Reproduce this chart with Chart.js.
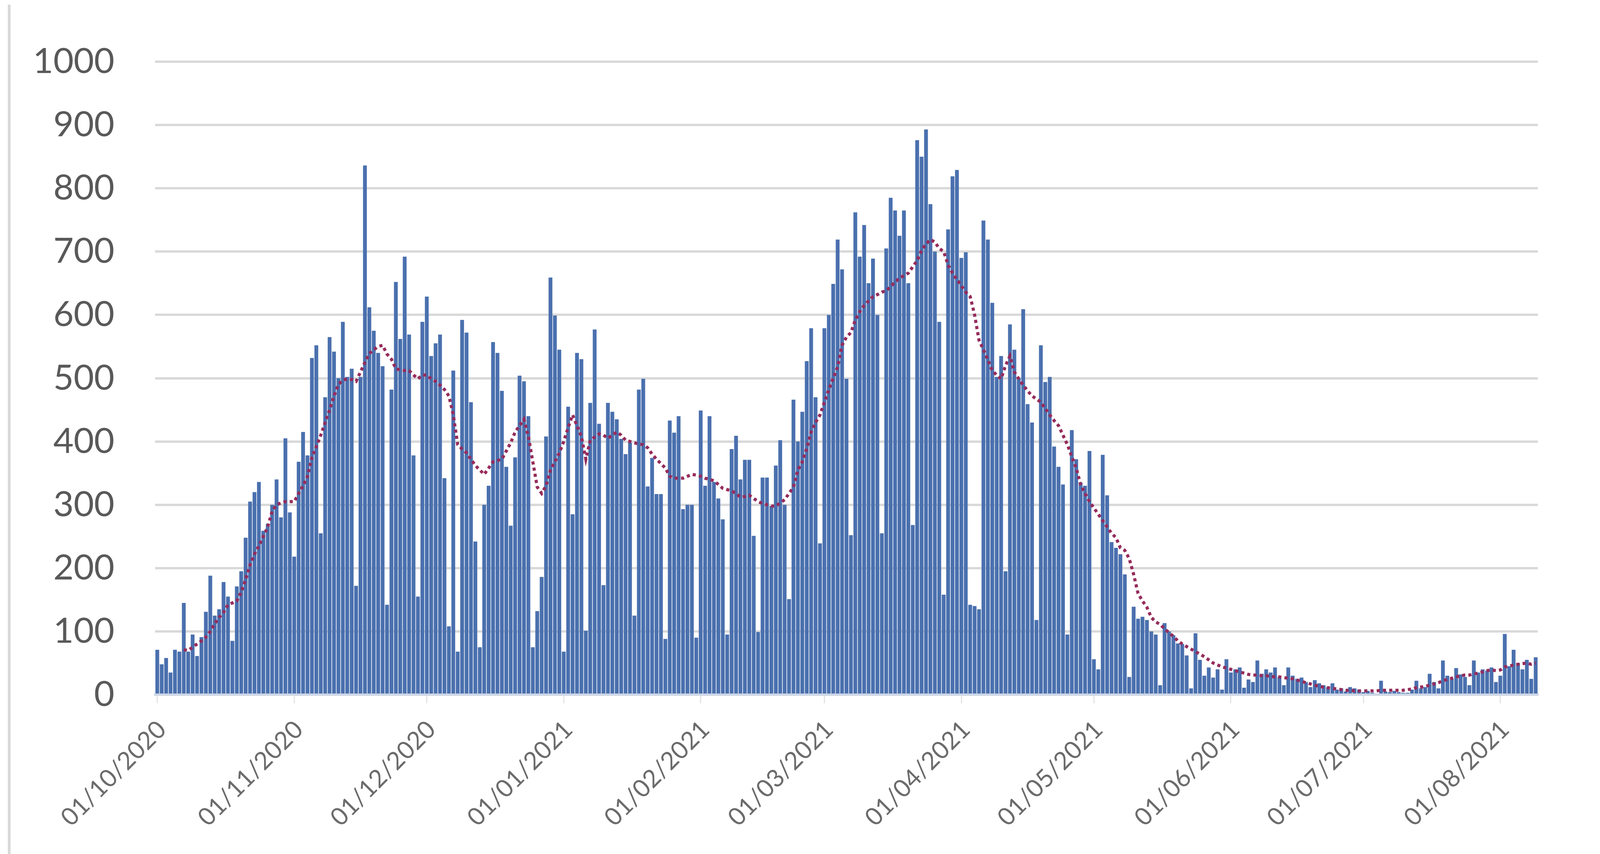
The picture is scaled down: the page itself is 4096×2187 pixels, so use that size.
<!DOCTYPE html>
<html lang="es">
<head>
<meta charset="UTF-8">
<title>Casos diarios y media de 7 días</title>
<script src="https://cdn.jsdelivr.net/npm/chart.js"></script>
<style>
  body { margin: 0; background: #fff; }
  #marco { position: relative; width: 4096px; height: 2187px; }
  #borde { position: absolute; left: 20px; top: 12px; bottom: 0; width: 7px; background: #d9d9d9; }
  canvas { position: absolute; left: 0; top: 0; }
</style>
</head>
<body>
<div id="marco">
  <div id="borde"></div>
  <canvas id="grafico" width="4096" height="2187"></canvas>
</div>

<script>
// casos diarios (01/10/2020 - 09/08/2021)
const casosOct = [71, 48, 58, 35, 71, 68, 145, 68, 95, 61, 91, 131, 188, 125, 135, 178, 155, 85, 171, 195, 248,
                  305, 320, 336, 259, 270, 300, 340, 280, 405, 288];
const casosNov = [218, 368, 415, 378, 532, 552, 255, 470, 565, 542, 500, 589, 502, 515, 172, 502, 836, 612,
                  575, 540, 519, 142, 482, 652, 562, 692, 569, 378, 155, 589];
const casosDic = [629, 535, 555, 569, 342, 108, 512, 68, 592, 572, 462, 242, 75, 300, 330, 557,
                  540, 480, 360, 267, 375, 504, 495, 440, 75, 132, 186, 408, 659, 599, 545];
const casosEne = [68, 455, 285, 540, 530, 101, 461, 577, 428, 173, 461, 447, 435, 404, 380, 398, 125, 482, 499, 329,
                  374, 317, 317, 88, 433, 414, 440, 293, 300, 300, 90];
const casosFeb = [449, 330, 440, 336, 310, 277, 95, 388, 409, 340, 371, 371, 251, 99,
                  343, 343, 298, 362, 402, 300, 151, 466, 400, 447, 527, 579, 470, 239];
const casosMar = [579, 600, 649, 719, 672, 499, 252, 762, 692, 742, 650, 689, 600, 255,
                  705, 785, 765, 725, 765, 650, 268, 876, 850, 893, 775, 700, 589, 158, 735, 819, 829];
const casosAbr = [690, 699, 142, 140, 135, 749, 719, 619, 502, 535, 195, 585, 545, 500, 609, 459, 430, 118,
                  552, 494, 502, 392, 360, 332, 95, 418, 372, 335, 330, 385];
const casosMay = [56, 40, 379, 315, 241, 232, 222, 190, 28, 139, 120, 123, 118, 100, 95, 15,
                  113, 100, 94, 81, 80, 62, 10, 97, 55, 30, 43, 27, 40, 8, 56];
const casosJun = [35, 40, 43, 11, 24, 20, 54, 33, 40, 35, 43, 28, 15, 43, 30, 25, 27, 20, 12, 23,
                  18, 15, 12, 18, 8, 10, 5, 12, 10, 8];
const casosJul = [4, 6, 3, 2, 22, 5, 4, 6, 4, 3, 3, 8, 22, 10, 12, 33, 20, 10, 54, 30, 25, 42, 32, 28, 15,
                  54, 35, 40, 38, 43, 20];
const casosAgo = [30, 96, 45, 71, 50, 40, 55, 25, 59];

// media movil de 7 dias (linea punteada)
const mediaOct = [null, null, null, null, null, null, 71, 70, 75, 80, 85, 91, 100, 112, 122, 130, 142, 145, 148,
                  162, 182, 205, 222, 235, 250, 265, 290, 300, 303, 305, 305];
const mediaNov = [305, 318, 330, 345, 375, 392, 410, 430, 450, 472, 490, 497, 499, 498, 495, 510, 525, 539,
                  545, 550, 552, 538, 530, 515, 513, 512, 512, 505, 499, 505];
const mediaDic = [505, 499, 495, 489, 482, 472, 442, 395, 388, 382, 372, 362, 355, 348, 358, 368, 370, 372,
                  385, 398, 415, 425, 435, 408, 368, 328, 318, 330, 355, 368, 382];
const mediaEne = [400, 422, 442, 425, 408, 372, 402, 407, 412, 410, 405, 410, 415, 410, 402, 400, 398, 396,
                  395, 390, 380, 372, 365, 358, 345, 342, 342, 342, 345, 348, 347];
const mediaFeb = [345, 342, 340, 338, 332, 326, 324, 322, 318, 312, 313, 315, 310, 305, 302, 300, 298, 298,
                  303, 308, 318, 328, 355, 368, 389, 415, 430, 442];
const mediaMar = [462, 482, 500, 518, 552, 565, 572, 592, 605, 615, 622, 629, 632, 636, 638, 645, 652, 658,
                  662, 666, 676, 686, 702, 712, 719, 715, 705, 700, 679, 666, 656];
const mediaAbr = [646, 636, 629, 600, 560, 545, 529, 512, 505, 499, 520, 535, 510, 499, 489, 480, 472, 467,
                  462, 452, 442, 433, 425, 410, 395, 376, 358, 332, 318, 305];
const mediaMay = [295, 285, 275, 265, 255, 248, 232, 228, 215, 190, 160, 148, 138, 122, 115, 111, 104, 98,
                  92, 85, 80, 76, 72, 68, 64, 60, 55, 50, 47, 44, 42];
const mediaJun = [40, 38, 36, 34, 32, 31, 31, 30, 30, 29, 28, 28, 27, 26, 25, 23, 21, 19, 17, 15, 13, 12,
                  11, 10, 9, 8, 7, 7, 6, 6];
const mediaJul = [6, 6, 6, 6, 7, 7, 7, 7, 7, 7, 8, 9, 11, 12, 13, 15, 17, 19, 22, 24, 26, 28, 30, 31, 31,
                  33, 34, 36, 38, 39, 38];
const mediaAgo = [39, 44, 45, 47, 48, 49, 50, 48, 50];

// etiquetas del eje x (solo el primer dia de cada mes)
const marcas = ['01/10/2020', '01/11/2020', '01/12/2020', '01/01/2021', '01/02/2021', '01/03/2021',
                '01/04/2021', '01/05/2021', '01/06/2021', '01/07/2021', '01/08/2021'];

const casos = [].concat(casosOct, casosNov, casosDic, casosEne, casosFeb, casosMar,
                        casosAbr, casosMay, casosJun, casosJul, casosAgo);
const media = [].concat(mediaOct, mediaNov, mediaDic, mediaEne, mediaFeb, mediaMar,
                        mediaAbr, mediaMay, mediaJun, mediaJul, mediaAgo);

// una fecha por dia, desde el 01/10/2020
const fechas = [];
const inicio = Date.UTC(2020, 9, 1);
for (let i = 0; i < casos.length; i++) {
    const f = new Date(inicio + i * 86400000);
    const dd = String(f.getUTCDate()).padStart(2, '0');
    const mm = String(f.getUTCMonth() + 1).padStart(2, '0');
    fechas.push(dd + '/' + mm + '/' + f.getUTCFullYear());
}

const ctx = document.getElementById('grafico').getContext('2d');
const grafico = new Chart(ctx, {
    type: 'bar',
    data: {
        labels: fechas,
        datasets: [
            {
                type: 'line',
                label: 'Media 7 días',
                data: media,
                borderColor: '#962c5c',
                borderWidth: 8,
                borderDash: [8, 8],
                pointRadius: 0,
                fill: false,
                tension: 0,
                order: 0
            },
            {
                type: 'bar',
                label: 'Casos',
                data: casos,
                backgroundColor: '#4a70ae',
                barPercentage: 0.86,
                categoryPercentage: 1.0,
                order: 1
            }
        ]
    },
    options: {
        responsive: false,
        animation: false,
        devicePixelRatio: 1,
        layout: { padding: { left: 0, right: 159, top: 154, bottom: 0 } },
        plugins: {
            legend: { display: false },
            tooltip: { enabled: false }
        },
        scales: {
            x: {
                offset: true,
                grid: { display: true, drawOnChartArea: false, drawTicks: true, tickLength: 22,
                        color: '#e3e3e3', lineWidth: 3, offset: false },
                border: { display: true, color: '#cfd7e6', width: 6 },
                ticks: {
                    autoSkip: false,
                    minRotation: 45,
                    maxRotation: 45,
                    padding: 30,
                    labelOffset: 12,
                    color: '#6b6b6b',
                    font: { family: 'Lato', size: 63 }
                },
                afterBuildTicks: axis => {
                    axis.ticks = axis.ticks.filter(t => marcas.includes(fechas[t.value]));
                },
                afterFit: axis => { axis.height = 408; }
            },
            y: {
                min: 0,
                max: 1000,
                ticks: {
                    stepSize: 100,
                    padding: 104,
                    color: '#595959',
                    font: { family: 'Lato', size: 90 },
                    callback: v => String(v)
                },
                grid: { color: '#d9d9d9', lineWidth: 6, drawTicks: false },
                border: { display: false },
                afterFit: axis => { axis.width = 397; }
            }
        }
    }
});
</script>
</body>
</html>
